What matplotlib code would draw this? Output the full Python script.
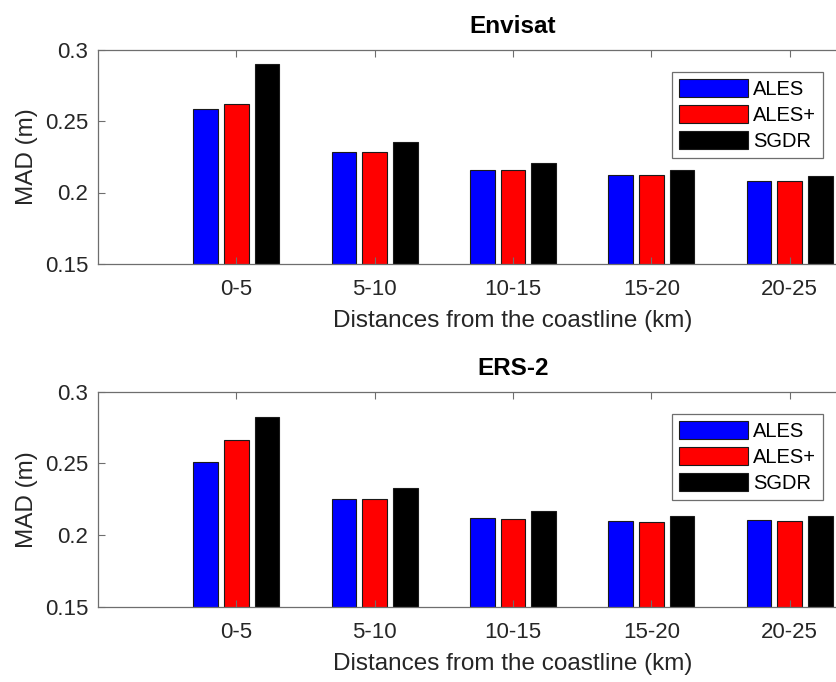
import matplotlib
matplotlib.use("Agg")
import matplotlib.pyplot as plt
import numpy as np

plt.rcParams['font.family'] = ['Liberation Sans', 'DejaVu Sans']

categories = ['0-5', '5-10', '10-15', '15-20', '20-25']
series = ['ALES', 'ALES+', 'SGDR']
colors = ['#0000ff', '#ff0000', '#000000']

envisat_ales = [0.2586, 0.2285, 0.2157, 0.2120, 0.2080]
envisat_alesp = [0.2619, 0.2285, 0.2157, 0.2120, 0.2080]
envisat_sgdr = [0.2896, 0.2351, 0.2206, 0.2159, 0.2115]

ers2_ales = [0.2507, 0.2253, 0.2116, 0.2098, 0.2107]
ers2_alesp = [0.2661, 0.2253, 0.2112, 0.2089, 0.2100]
ers2_sgdr = [0.2821, 0.2328, 0.2165, 0.2133, 0.2133]

txt = '#262626'
spine = '#6e6e6e'

fig = plt.figure(figsize=(8.37, 6.82), dpi=100)
W, H = 837, 682

def panel(bottom_px, top_px, title, data, leg_top):
    ax = fig.add_axes([98 / W, 1 - bottom_px / H, 830 / W, (bottom_px - top_px) / H])
    x = np.arange(1, len(categories) + 1)
    for i, vals in enumerate(data):
        ax.bar(x + (i - 1) * 0.222, vals, width=0.18, color=colors[i],
               edgecolor='#1a1a1a', linewidth=0.8, label=series[i])
    ax.set_xlim(0, 6)
    ax.set_ylim(0.15, 0.3)
    ax.set_xticks(x)
    ax.set_xticklabels(categories)
    ax.set_yticks([0.15, 0.2, 0.25, 0.3])
    ax.set_yticklabels(['0.15', '0.2', '0.25', '0.3'])
    ax.tick_params(direction='in', top=True, right=False, labelsize=16,
                   colors=spine, labelcolor=txt, length=5, width=0.8)
    ax.tick_params(axis='x', pad=11)
    ax.tick_params(axis='y', pad=7)
    for s in ['top', 'bottom', 'left']:
        ax.spines[s].set_color(spine)
        ax.spines[s].set_linewidth(0.9)
    ax.spines['right'].set_visible(False)
    ax.set_xlabel('Distances from the coastline (km)', fontsize=17.5, color=txt, labelpad=7)
    ax.set_ylabel('MAD (m)', fontsize=17.5, color=txt, labelpad=5)
    ax.set_title(title, fontsize=17.5, fontweight='bold', color='black', pad=12)
    leg = ax.legend(loc='upper right', bbox_to_anchor=(823 / W, 1 - leg_top / H),
                    bbox_transform=fig.transFigure, borderaxespad=0, fontsize=14.5,
                    handlelength=3.4, handleheight=1.0, handletextpad=0.25,
                    labelspacing=0.3, borderpad=0.35, fancybox=False, framealpha=1)
    leg.get_frame().set_edgecolor(spine)
    leg.get_frame().set_linewidth(0.9)
    for t in leg.get_texts():
        t.set_color('black')
    return ax

panel(264, 49.5, 'Envisat', [envisat_ales, envisat_alesp, envisat_sgdr], 71.7)
panel(606.7, 391.7, 'ERS-2', [ers2_ales, ers2_alesp, ers2_sgdr], 414)

fig.savefig('out.png', dpi=100)
